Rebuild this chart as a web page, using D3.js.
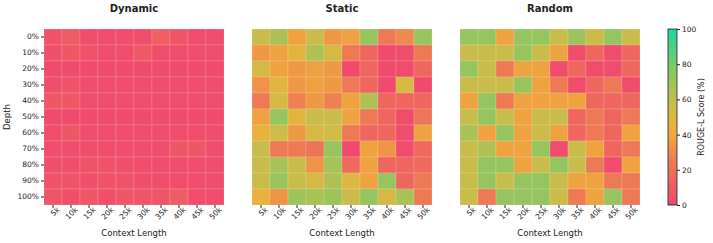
<!DOCTYPE html>
<html>
<head>
<meta charset="utf-8">
<script src="https://cdn.jsdelivr.net/npm/d3@7"></script>
<style>
  body { margin: 0; background: #fff; }
  text { font-family: "DejaVu Sans", sans-serif; fill: #222; }
</style>
</head>
<body>
<div id="chart"></div>
<script>
var contexts = ["5k", "10k", "15k", "20k", "25k", "30k", "35k", "40k", "45k", "50k"];
var depths = ["0%", "10%", "20%", "30%", "40%", "50%", "60%", "70%", "80%", "90%", "100%"];
var titles = ["Dynamic", "Static", "Random"];

var dynamicScores = [
  [6, 10, 3, 3, 3, 3, 12, 7, 3, 3],
  [4, 8, 6, 3, 3, 9, 3, 3, 3, 3],
  [2, 2, 2, 2, 2, 2, 2, 2, 2, 2],
  [3, 6, 3, 3, 3, 3, 3, 3, 3, 3],
  [8, 8, 3, 3, 3, 3, 3, 3, 3, 3],
  [2, 2, 2, 2, 2, 2, 2, 2, 2, 2],
  [3, 8, 3, 3, 3, 3, 3, 3, 3, 3],
  [3, 3, 3, 3, 3, 3, 3, 8, 8, 3],
  [4, 4, 6, 6, 4, 3, 3, 3, 3, 3],
  [6, 6, 4, 6, 6, 4, 3, 3, 3, 3],
  [7, 4, 8, 4, 8, 7, 7, 11, 3, 3]
];
var staticScores = [
  [57, 66, 38, 57, 35, 37, 72, 25, 30, 72],
  [35, 38, 47, 65, 52, 25, 15, 2, 3, 25],
  [52, 38, 35, 37, 35, 2, 15, 2, 3, 15],
  [33, 47, 35, 37, 35, 25, 15, 2, 52, 2],
  [25, 52, 27, 35, 27, 38, 65, 15, 15, 15],
  [37, 72, 47, 57, 57, 38, 25, 15, 3, 23],
  [45, 55, 35, 52, 55, 25, 15, 15, 3, 38],
  [57, 25, 25, 22, 72, 2, 38, 33, 3, 17],
  [57, 67, 57, 33, 68, 17, 38, 15, 15, 17],
  [57, 70, 57, 52, 65, 50, 38, 72, 15, 25],
  [45, 33, 70, 67, 70, 57, 72, 52, 67, 25]
];
var randomScores = [
  [72, 72, 38, 72, 72, 57, 70, 57, 72, 57],
  [57, 57, 57, 72, 57, 38, 3, 15, 3, 15],
  [72, 57, 25, 38, 38, 3, 15, 3, 3, 15],
  [57, 57, 57, 72, 38, 25, 3, 15, 25, 3],
  [38, 72, 25, 38, 38, 38, 38, 15, 15, 15],
  [57, 72, 57, 38, 57, 57, 15, 25, 15, 25],
  [67, 38, 72, 38, 57, 38, 15, 25, 15, 38],
  [57, 65, 38, 38, 72, 3, 57, 38, 15, 25],
  [57, 72, 72, 38, 57, 72, 57, 25, 3, 38],
  [57, 72, 57, 72, 72, 57, 38, 38, 25, 25],
  [57, 25, 72, 72, 72, 57, 25, 38, 72, 25]
];
var panels = [dynamicScores, staticScores, randomScores];
var cbarTicks = [0, 20, 40, 60, 80, 100];

var width = 713, height = 243;
var panelLeft = [44, 252, 460],
    panelW = 180,
    panelTop = 29,
    panelH = 176;

var color = d3.scaleLinear()
    .domain([0, 25, 42, 58, 78, 100])
    .range(["#f0476f", "#ee7a55", "#eeb03a", "#c8bd4b", "#80c868", "#1ed6a0"])
    .clamp(true);

var svg = d3.select("#chart").append("svg")
    .attr("width", width)
    .attr("height", height);

var x = d3.scaleBand().domain(contexts).range([0, panelW]);
var y = d3.scaleBand().domain(depths).range([0, panelH]);

panels.forEach(function(data, p) {
  var g = svg.append("g")
      .attr("transform", "translate(" + panelLeft[p] + "," + panelTop + ")");

  var cells = [];
  data.forEach(function(row, i) {
    row.forEach(function(v, j) {
      cells.push({depth: depths[i], ctx: contexts[j], v: v});
    });
  });

  g.selectAll("rect.cell")
      .data(cells)
    .enter().append("rect")
      .attr("class", "cell")
      .attr("x", function(d) { return x(d.ctx); })
      .attr("y", function(d) { return y(d.depth); })
      .attr("width", x.bandwidth())
      .attr("height", y.bandwidth())
      .attr("fill", function(d) { return color(d.v); })
      .attr("stroke", "rgba(255,255,255,0.25)")
      .attr("stroke-width", 0.6);

  var xAxis = g.append("g")
      .attr("transform", "translate(0," + panelH + ")")
      .call(d3.axisBottom(x).tickSize(3).tickPadding(2));
  xAxis.select(".domain").remove();
  xAxis.selectAll("line").attr("stroke", "#222");
  xAxis.selectAll("text")
      .attr("font-size", 7.5)
      .attr("font-family", "DejaVu Sans, sans-serif")
      .attr("text-anchor", "end")
      .attr("dx", "0.2em")
      .attr("dy", "0.5em")
      .attr("transform", "rotate(-45)");

  if (p === 0) {
    var yAxis = g.append("g")
        .call(d3.axisLeft(y).tickSize(3).tickPadding(2));
    yAxis.select(".domain").remove();
    yAxis.selectAll("line").attr("stroke", "#222");
    yAxis.selectAll("text")
        .attr("font-size", 7.5)
        .attr("font-family", "DejaVu Sans, sans-serif");

    g.append("text")
        .attr("transform", "translate(-34," + panelH / 2 + ") rotate(-90)")
        .attr("text-anchor", "middle")
        .attr("font-size", 8.5)
        .text("Depth");
  }

  g.append("text")
      .attr("x", panelW / 2)
      .attr("y", -17)
      .attr("text-anchor", "middle")
      .attr("font-size", 10)
      .attr("font-weight", "bold")
      .text(titles[p]);

  g.append("text")
      .attr("x", panelW / 2)
      .attr("y", panelH + 31)
      .attr("text-anchor", "middle")
      .attr("font-size", 8.5)
      .text("Context Length");
});

// colorbar
var cbX = 668, cbW = 9, cbTop = 29, cbH = 176;
var cb = d3.scaleLinear().domain([0, 100]).range([cbTop + cbH, cbTop]);

var grad = svg.append("defs").append("linearGradient")
    .attr("id", "cbar-grad")
    .attr("x1", "0%").attr("x2", "0%")
    .attr("y1", "100%").attr("y2", "0%");
grad.selectAll("stop")
    .data(d3.range(0, 101, 5))
  .enter().append("stop")
    .attr("offset", function(d) { return d + "%"; })
    .attr("stop-color", function(d) { return color(d); });

svg.append("rect")
    .attr("x", cbX)
    .attr("y", cbTop)
    .attr("width", cbW)
    .attr("height", cbH)
    .attr("fill", "url(#cbar-grad)")
    .attr("stroke", "#222")
    .attr("stroke-width", 0.8);

var cAxis = svg.append("g")
    .attr("transform", "translate(" + (cbX + cbW) + ",0)")
    .call(d3.axisRight(cb).tickValues(cbarTicks).tickSize(3).tickPadding(2));
cAxis.select(".domain").remove();
cAxis.selectAll("line").attr("stroke", "#222");
cAxis.selectAll("text")
    .attr("font-size", 7.5)
    .attr("font-family", "DejaVu Sans, sans-serif");

svg.append("text")
    .attr("transform", "translate(704," + (cbTop + cbH / 2) + ") rotate(-90)")
    .attr("text-anchor", "middle")
    .attr("font-size", 8)
    .text("ROUGE-L Score (%)");
</script>
</body>
</html>
